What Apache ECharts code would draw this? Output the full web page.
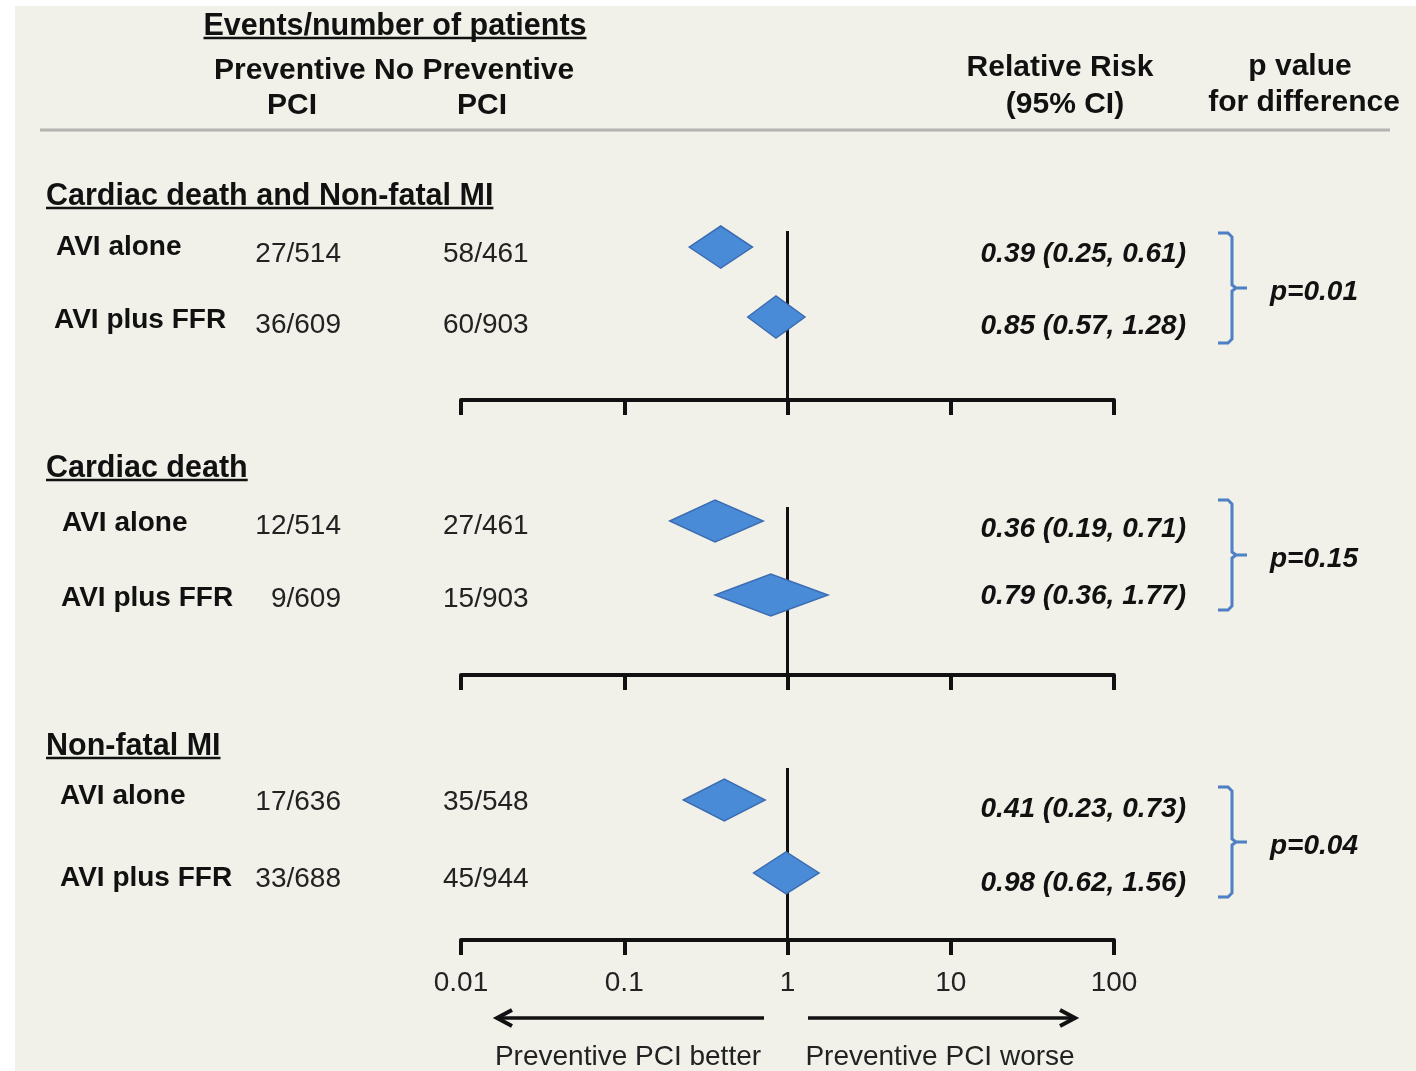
<!DOCTYPE html>
<html><head><meta charset="utf-8">
<script src="https://cdn.jsdelivr.net/npm/echarts@6/dist/echarts.min.js"></script>
<style>
html,body{margin:0;padding:0;background:#fff;width:1416px;height:1071px;overflow:hidden}
#bg{position:absolute;left:15px;top:6px;right:0;bottom:0;background:#f1f1e9}
#c{position:absolute;left:0;top:0;width:1416px;height:1071px}
</style></head>
<body><div id="bg"></div><div id="c"></div>
<script>
// ---------- DATA ----------
const panelTitles = ['Cardiac death and Non-fatal MI', 'Cardiac death', 'Non-fatal MI'];
const subgroups = ['AVI alone', 'AVI plus FFR'];
const eventsPCI = [['27/514', '36/609'], ['12/514', '9/609'], ['17/636', '33/688']];
const eventsNoPCI = [['58/461', '60/903'], ['27/461', '15/903'], ['35/548', '45/944']];
const relRisk = [[0.39, 0.85], [0.36, 0.79], [0.41, 0.98]];
const ciLow = [[0.25, 0.57], [0.19, 0.36], [0.23, 0.62]];
const ciHigh = [[0.61, 1.28], [0.71, 1.77], [0.73, 1.56]];
const pValues = ['p=0.01', 'p=0.15', 'p=0.04'];
const xTicks = [0.01, 0.1, 1, 10, 100];

// ---------- LAYOUT ----------
const AX_L = 461, AX_R = 1114;
const DY = 3; // text baseline correction
const panels = [
  {top: 231, axis: 400, yMin: -0.229, yMax: 2.186, titleY: 194, labelY: [244, 317], labelX: [56, 54], countY: [251, 322], rrY: [251, 323], br: [233, 343]},
  {top: 507, axis: 675, yMin: -0.189, yMax: 2.081, titleY: 466, labelY: [520, 595], labelX: [62, 61], countY: [523, 596], rrY: [526, 593], br: [500, 610]},
  {top: 768, axis: 940, yMin: -0.438, yMax: 1.918, titleY: 744, labelY: [793, 875], labelX: [60, 60], countY: [799, 876], rrY: [806, 880], br: [787, 897]}
];
const FAM = '"Liberation Sans", Arial, Helvetica, sans-serif';
const BOLD30 = 'bold 30px ' + FAM;
const BOLD31 = 'bold 30.5px ' + FAM;
const BOLD28 = 'bold 28px ' + FAM;
const REG28 = '28px ' + FAM;
const BI28 = 'italic bold 28px ' + FAM;
const DIAMOND_FILL = '#4a8bd8', DIAMOND_STROKE = '#3c6db3', BRACE = '#4f7fc4';

const mctx = document.createElement('canvas').getContext('2d');
function textW(t, font) { mctx.font = font; return mctx.measureText(t).width; }

function txt(t, x, y, font, align, color) {
  return {type: 'text', silent: true, style: {text: t, x: x, y: y + DY, font: font, fill: color || '#111',
    textAlign: align || 'left', align: align || 'left', textVerticalAlign: 'middle', verticalAlign: 'middle'}};
}
function hline(x1, x2, y, w, color) {
  return {type: 'line', silent: true, shape: {x1: x1, y1: y, x2: x2, y2: y}, style: {stroke: color || '#111', lineWidth: w}};
}
function underlined(t, x, y, font, uy, align) {
  const w = textW(t, font);
  const x0 = align === 'center' ? x - w / 2 : x;
  return [txt(t, x, y, font, align), hline(x0, x0 + w, uy, 2.5)];
}
const fmt = v => v.toFixed(2);

const graphics = [];
// header
graphics.push(...underlined('Events/number of patients', 395, 24, BOLD31, 38, 'center'));
graphics.push(txt('Preventive No Preventive', 214, 68, BOLD30));
graphics.push(txt('PCI', 292, 103, BOLD30, 'center'));
graphics.push(txt('PCI', 482, 103, BOLD30, 'center'));
graphics.push(txt('Relative Risk', 1060, 65, BOLD30, 'center'));
graphics.push(txt('(95% CI)', 1065, 102, BOLD30, 'center'));
graphics.push(txt('p value', 1300, 64, BOLD30, 'center'));
graphics.push(txt('for difference', 1304, 100, BOLD30, 'center'));
graphics.push(hline(40, 1390, 130, 3, '#b4b4b0'));

panels.forEach((p, i) => {
  graphics.push(...underlined(panelTitles[i], 46, p.titleY, BOLD31, p.titleY + 14));
  subgroups.forEach((s, j) => {
    graphics.push(txt(s, p.labelX[j], p.labelY[j], BOLD28));
    graphics.push(txt(eventsPCI[i][j], 341, p.countY[j], REG28, 'right', '#222'));
    graphics.push(txt(eventsNoPCI[i][j], 443, p.countY[j], REG28, 'left', '#222'));
    graphics.push(txt(fmt(relRisk[i][j]) + ' (' + fmt(ciLow[i][j]) + ', ' + fmt(ciHigh[i][j]) + ')', 1186, p.rrY[j], BI28, 'right'));
  });
  const t = p.br[0], b = p.br[1], m = (t + b) / 2;
  graphics.push({type: 'polyline', silent: true,
    shape: {points: [[1218, t], [1228, t], [1232, t + 4], [1232, m - 3], [1236, m], [1247, m], [1236, m], [1232, m + 3], [1232, b - 4], [1228, b], [1218, b]]},
    style: {stroke: BRACE, lineWidth: 3, fill: null}});
  graphics.push(txt(pValues[i], 1270, m + 1, BI28));
});

// direction arrows
const AY = 1018;
graphics.push(hline(497, 764, AY, 3.5));
graphics.push({type: 'polyline', silent: true, shape: {points: [[512, AY - 8], [497, AY], [512, AY + 8]]}, style: {stroke: '#111', lineWidth: 4, fill: null}});
graphics.push(hline(808, 1075, AY, 3.5));
graphics.push({type: 'polyline', silent: true, shape: {points: [[1060, AY - 8], [1075, AY], [1060, AY + 8]]}, style: {stroke: '#111', lineWidth: 4, fill: null}});
graphics.push(txt('Preventive PCI better', 628, 1054, REG28, 'center', '#222'));
graphics.push(txt('Preventive PCI worse', 940, 1054, REG28, 'center', '#222'));

// ---------- CHART ----------
const chart = echarts.init(document.getElementById('c'), null, {renderer: 'canvas'});
const grids = [], xAxes = [], yAxes = [], series = [];
panels.forEach((p, i) => {
  grids.push({left: AX_L, width: AX_R - AX_L, top: p.top, height: p.axis - p.top, containLabel: false});
  xAxes.push({
    type: 'log', logBase: 10, gridIndex: i, min: xTicks[0], max: xTicks[xTicks.length - 1],
    axisLine: {show: true, onZero: false, lineStyle: {color: '#111', width: 4}},
    axisTick: {show: true, inside: false, length: 15, lineStyle: {color: '#111', width: 4}},
    splitLine: {show: false}, minorTick: {show: false},
    axisLabel: {show: i === panels.length - 1, margin: 29, fontSize: 28, fontFamily: FAM, color: '#222',
      formatter: v => String(+v.toPrecision(3))}
  });
  yAxes.push({type: 'value', gridIndex: i, show: false, inverse: true, min: p.yMin, max: p.yMax});
  series.push({
    type: 'custom', xAxisIndex: i, yAxisIndex: i, z: 3, silent: true,
    data: subgroups.map((s, j) => [relRisk[i][j], ciLow[i][j], ciHigh[i][j], j]),
    encode: {x: [0, 1, 2], y: 3},
    renderItem: function (params, api) {
      const row = api.value(3);
      const c = api.coord([api.value(0), row]);
      const l = api.coord([api.value(1), row]);
      const r = api.coord([api.value(2), row]);
      const h = 21;
      return {type: 'polygon', shape: {points: [[l[0], c[1]], [c[0], c[1] - h], [r[0], c[1]], [c[0], c[1] + h]]},
        style: {fill: DIAMOND_FILL, stroke: DIAMOND_STROKE, lineWidth: 1.5}};
    },
    markLine: {silent: true, z: 1, symbol: 'none', animation: false, label: {show: false},
      lineStyle: {color: '#111', width: 3, type: 'solid'}, data: [{xAxis: 1}]}
  });
});

chart.setOption({
  animation: false,
  backgroundColor: 'transparent',
  grid: grids, xAxis: xAxes, yAxis: yAxes, series: series,
  graphic: {elements: graphics}
});
</script></body></html>
